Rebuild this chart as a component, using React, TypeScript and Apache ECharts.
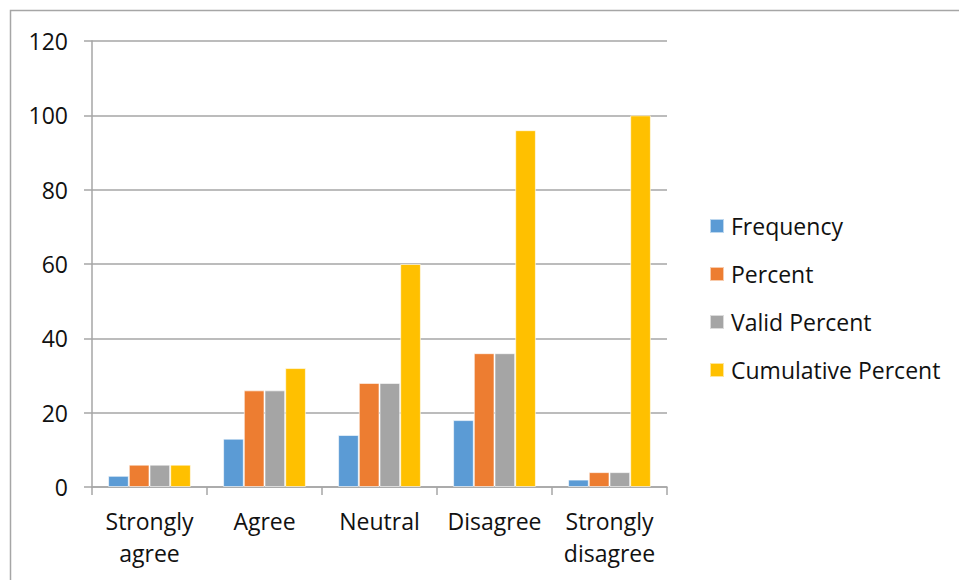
import React, { useEffect, useRef } from "react";
import * as echarts from "echarts";

const categories = ["Strongly\nagree", "Agree", "Neutral", "Disagree", "Strongly\ndisagree"];
const frequency = [3, 13, 14, 18, 2];
const percent = [6, 26, 28, 36, 4];
const validPercent = [6, 26, 28, 36, 4];
const cumulativePercent = [6, 32, 60, 96, 100];
const seriesNames = ["Frequency", "Percent", "Valid Percent", "Cumulative Percent"];
const colors = ["#5b9bd5", "#ed7d31", "#a5a5a5", "#ffc000"];

const FONT = "Open Sans";

export default function App() {
  const ref = useRef<HTMLDivElement>(null);
  useEffect(() => {
    if (!ref.current) return;
    const chart = echarts.init(ref.current, null, { renderer: "svg" });
    const values = [frequency, percent, validPercent, cumulativePercent];
    chart.setOption({
      animation: false,
      color: colors,
      textStyle: { fontFamily: FONT },
      graphic: [
        {
          type: "rect",
          shape: { x: 10.5, y: 10.5, width: 960, height: 600 },
          style: { fill: "none", stroke: "#a6a6a6", lineWidth: 1.5 },
          silent: true,
        },
      ],
      grid: { left: 92, right: 292, top: 41, bottom: 93 },
      legend: {
        orient: "vertical",
        left: 709,
        top: 214,
        padding: 0,
        itemWidth: 14,
        itemHeight: 14,
        itemGap: 24,
        icon: "rect",
        textStyle: { fontSize: 23, color: "#111", fontFamily: FONT, lineHeight: 24, padding: [0, 0, 0, 2] },
        data: seriesNames,
      },
      xAxis: {
        type: "category",
        data: categories,
        axisLine: { lineStyle: { color: "#a6a6a6", width: 1.5 } },
        axisTick: { show: true, length: 8, lineStyle: { color: "#a6a6a6", width: 1.5 } },
        axisLabel: { interval: 0, hideOverlap: false, fontSize: 23, color: "#111", lineHeight: 32, margin: 18, fontFamily: FONT },
      },
      yAxis: {
        type: "value",
        min: 0,
        max: 120,
        interval: 20,
        axisLine: { show: true, lineStyle: { color: "#a6a6a6", width: 1.5 } },
        axisTick: { show: true, length: 8, lineStyle: { color: "#a6a6a6", width: 1.5 } },
        splitLine: { lineStyle: { color: "#a6a6a6", width: 1.5 } },
        axisLabel: { fontSize: 23, color: "#111", margin: 24, fontFamily: FONT },
      },
      series: seriesNames.map((name, i) => ({
        name,
        type: "bar",
        data: values[i],
        barGap: "0%",
        barCategoryGap: "28%",
        itemStyle: { borderColor: "rgba(255,255,255,0.6)", borderWidth: 1 },
      })),
    });
    return () => chart.dispose();
  }, []);
  return <div ref={ref} style={{ position: "fixed", left: 0, top: 0, width: 959, height: 580, background: "#fff" }} />;
}
